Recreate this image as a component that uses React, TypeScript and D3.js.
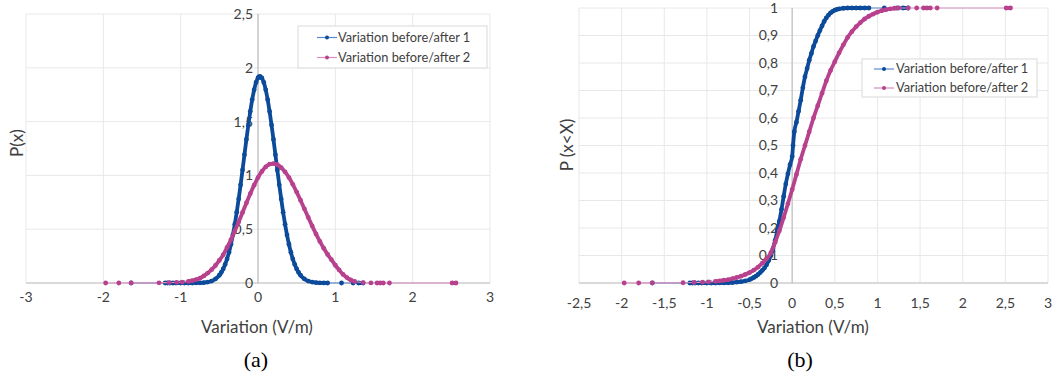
import React from "react";
import * as d3 from "d3";

// sample positions (V/m)
const blueX = [-1.64, -1.2, -1.17, -1.14, -1.1, -1.06, -1.0, -0.95, -0.9, -0.85, -0.8,
  -0.75, -0.7, -0.65, -0.6, -0.55,
  -0.5, -0.475, -0.45, -0.425, -0.4, -0.375, -0.35, -0.325, -0.3, -0.275, -0.25, -0.225, -0.2, -0.175, -0.15, -0.125, -0.1, -0.075, -0.05, -0.025, 0,
  0.01,
  0.025, 0.05, 0.075, 0.1, 0.125, 0.15, 0.175, 0.2, 0.225, 0.25, 0.275, 0.3, 0.325, 0.35, 0.375, 0.4, 0.425, 0.45, 0.475, 0.5, 0.525, 0.55,
  0.6, 0.65, 0.7, 0.75, 0.8, 0.85, 0.9,
  1.08, 1.23, 1.3, 1.36];

const bluePdf = [0, 0, 0, 0, 0, 0, 0, 0, 0, 0.0002, 0.0006,
  0.0015, 0.0037, 0.0085, 0.018, 0.038,
  0.072, 0.098, 0.131, 0.173, 0.224, 0.286, 0.36, 0.447, 0.546, 0.658, 0.781, 0.912, 1.05, 1.193, 1.334, 1.469, 1.594, 1.705, 1.795, 1.864, 1.906,
  1.916,
  1.92, 1.906, 1.864, 1.795, 1.705, 1.594, 1.469, 1.334, 1.193, 1.05, 0.912, 0.781, 0.658, 0.546, 0.447, 0.36, 0.286, 0.224, 0.173, 0.131, 0.098, 0.072,
  0.038, 0.018, 0.0085, 0.0037, 0.0015, 0.0006, 0.0002,
  0, 0, 0, 0];

const blueCdf = [0, 0, 0, 0, 0, 0, 0, 0, 0, 0.0002, 0.0004,
  0.0008, 0.0015, 0.003, 0.005, 0.008,
  0.012, 0.016, 0.02, 0.025, 0.031, 0.038, 0.046, 0.055, 0.066, 0.082, 0.1, 0.125, 0.155, 0.19, 0.225, 0.268, 0.315, 0.36, 0.397, 0.43, 0.46,
  0.5,
  0.55, 0.585, 0.625, 0.665, 0.71, 0.75, 0.78, 0.81, 0.835, 0.86, 0.88, 0.9, 0.918, 0.935, 0.951, 0.964, 0.974, 0.982, 0.988, 0.992, 0.995, 0.997,
  0.999, 1, 1, 1, 1, 1, 1,
  1, 1, 1, 1];

const magentaX = [-1.97, -1.8, -1.64, -1.28, -1.15, -1.05, -0.98,
  -0.9, -0.85, -0.8, -0.75, -0.7, -0.65, -0.6, -0.55, -0.5, -0.45,
  -0.4, -0.35, -0.3, -0.25, -0.2, -0.15, -0.1, -0.05, 0, 0.05,
  0.1, 0.15, 0.2, 0.25, 0.3, 0.35, 0.4, 0.45, 0.5, 0.55,
  0.6, 0.65, 0.7, 0.75, 0.8, 0.85, 0.9, 0.95, 1.0, 1.05,
  1.1, 1.15, 1.2, 1.25,
  1.36, 1.46, 1.54, 1.58, 1.62, 1.7, 2.51, 2.56];

const magentaPdf = [0, 0, 0.0003, 0.002, 0.004, 0.006, 0.009,
  0.015, 0.022, 0.032, 0.045, 0.066, 0.092, 0.124, 0.163, 0.21, 0.262,
  0.33, 0.402, 0.484, 0.568, 0.655, 0.744, 0.83, 0.909, 0.98, 1.037,
  1.079, 1.104, 1.11, 1.099, 1.073, 1.032, 0.98, 0.917, 0.845, 0.769,
  0.689, 0.609, 0.531, 0.456, 0.386, 0.323, 0.266, 0.216, 0.165, 0.12,
  0.08, 0.05, 0.028, 0.014,
  0.004, 0.001, 0, 0, 0, 0, 0, 0];

const magentaCdf = [0, 0, 0.0005, 0.001, 0.002, 0.003, 0.004,
  0.006, 0.008, 0.01, 0.012, 0.016, 0.02, 0.025, 0.031, 0.038, 0.047,
  0.058, 0.072, 0.088, 0.11, 0.148, 0.19, 0.238, 0.288, 0.34, 0.395,
  0.45, 0.5, 0.55, 0.6, 0.645, 0.69, 0.735, 0.773, 0.805, 0.837,
  0.866, 0.893, 0.914, 0.932, 0.947, 0.96, 0.97, 0.978, 0.985, 0.99,
  0.994, 0.997, 0.999, 1,
  1, 1, 1, 1, 1, 1, 1, 1];

const seriesNames = ["Variation before/after 1", "Variation before/after 2"];
const xTicksA = [-3, -2, -1, 0, 1, 2, 3];
const yTicksA = [0, 0.5, 1, 1.5, 2, 2.5];
const xTicksB = [-2.5, -2, -1.5, -1, -0.5, 0, 0.5, 1, 1.5, 2, 2.5, 3];
const yTicksB = [0, 0.1, 0.2, 0.3, 0.4, 0.5, 0.6, 0.7, 0.8, 0.9, 1];

const BLUE = "#0c4a9a";
const BLUE_LINE = "#5a86cc";
const MAG = "#b8418e";
const MAG_LINE = "#d98cbf";
const GRID = "#e8e8e8";
const AXIS = "#bfbfbf";
const TXT = "#404040";
const FONT = "Lato, 'Open Sans', sans-serif";

type Pt = [number, number];
const zip = (xs: number[], ys: number[]): Pt[] => xs.map((x, i) => [x, ys[i]]);
const fmt = (v: number) => String(+v.toFixed(2)).replace(".", ",");

function Series({ pts, x, y, color, lineColor }: any) {
  const gen = d3.line<Pt>().x(d => x(d[0])).y(d => y(d[1])).curve(d3.curveMonotoneX);
  // dense runs of points drawn as a heavy stroke so they read as a chain of markers
  const runs: Pt[][] = [];
  let cur: Pt[] = [pts[0]];
  for (let i = 1; i < pts.length; i++) {
    if (pts[i][0] - pts[i - 1][0] < 0.065) cur.push(pts[i]);
    else { runs.push(cur); cur = [pts[i]]; }
  }
  runs.push(cur);
  return (
    <g>
      <path d={gen(pts) || ""} fill="none" stroke={lineColor} strokeWidth={1.2} />
      {runs.filter(r => r.length > 1).map((r, i) => (
        <path key={i} d={gen(r) || ""} fill="none" stroke={color} strokeWidth={3.8}
          strokeLinecap="round" strokeLinejoin="round" />
      ))}
      {pts.map((d: Pt, i: number) => (
        <circle key={i} cx={x(d[0])} cy={y(d[1])} r={2.4} fill={color} />
      ))}
    </g>
  );
}

function Legend({ x0, y0, w, h, rows, lineX, textX }: any) {
  return (
    <g>
      <rect x={x0} y={y0} width={w} height={h} fill="#fff" stroke="#d9d9d9" strokeWidth={1} />
      {seriesNames.map((name, i) => {
        const cy = rows[i];
        const c = i === 0 ? BLUE : MAG;
        const lc = i === 0 ? BLUE_LINE : MAG_LINE;
        return (
          <g key={name}>
            <line x1={x0 + lineX} x2={x0 + lineX + 20} y1={cy} y2={cy} stroke={lc} strokeWidth={1.2} />
            <circle cx={x0 + lineX + 10} cy={cy} r={2} fill={c} />
            <text x={x0 + textX} y={cy} dy="0.35em" fontSize={12.8} fill={TXT} fontFamily={FONT}>{name}</text>
          </g>
        );
      })}
    </g>
  );
}

function Panel(p: any) {
  const x = d3.scaleLinear().domain(p.xDomain).range(p.xRange);
  const y = d3.scaleLinear().domain(p.yDomain).range(p.yRange);
  const [xl, xr] = p.xRange;
  const [yb, yt] = p.yRange;
  return (
    <g>
      {p.xTicks.map((t: number) => (
        <line key={"gx" + t} x1={x(t)} x2={x(t)} y1={yt} y2={yb} stroke={GRID} />
      ))}
      {p.yTicks.map((t: number) => (
        <line key={"gy" + t} x1={xl} x2={xr} y1={y(t)} y2={y(t)} stroke={GRID} />
      ))}
      <line x1={x(0)} x2={x(0)} y1={yt} y2={yb} stroke={AXIS} strokeWidth={1.2} />
      <line x1={xl} x2={xr} y1={y(0)} y2={y(0)} stroke={AXIS} strokeWidth={1.2} />
      {p.xTicks.map((t: number) => (
        <text key={"tx" + t} x={x(t)} y={p.xTickY} dy="0.35em" textAnchor="middle"
          fontSize={p.tickSize} fill={TXT} fontFamily={FONT}>{fmt(t)}</text>
      ))}
      {p.yTicks.map((t: number) => (
        <text key={"ty" + t} x={x(0) - p.yTickGap} y={y(t)} dy="0.35em" textAnchor="end"
          fontSize={p.tickSize} fill={TXT} fontFamily={FONT}>{fmt(t)}</text>
      ))}
      <Series pts={p.blue} x={x} y={y} color={BLUE} lineColor={BLUE_LINE} />
      <Series pts={p.magenta} x={x} y={y} color={MAG} lineColor={MAG_LINE} />
      <text x={p.xTitleX} y={327} dy="0.35em" textAnchor="middle" fontSize={17}
        fill={TXT} fontFamily={FONT}>Variation (V/m)</text>
      <text transform={`translate(${p.yTitleX},${p.yTitleY}) rotate(-90)`} dy="0.35em"
        textAnchor="middle" fontSize={17} fill={TXT} fontFamily={FONT}>{p.yTitle}</text>
      <text x={p.captionX} y={359} dy="0.35em" textAnchor="middle" fontSize={22}
        fill="#000" fontFamily="'Liberation Serif', 'Times New Roman', serif">{p.caption}</text>
      <Legend {...p.legend} />
    </g>
  );
}

export default function App() {
  return (
    <svg width={1058} height={375} style={{ position: "absolute", left: 0, top: 0, background: "#fff" }}>
      <rect width={1058} height={375} fill="#fff" />
      <Panel
        xDomain={[-3, 3]} xRange={[26, 490]}
        yDomain={[0, 2.5]} yRange={[283, 14]}
        xTicks={xTicksA} yTicks={yTicksA}
        xTickY={297} yTickGap={5} tickSize={14}
        blue={zip(blueX, bluePdf)} magenta={zip(magentaX, magentaPdf)}
        xTitleX={257} yTitle="P(x)" yTitleX={17} yTitleY={143}
        caption="(a)" captionX={256}
        legend={{ x0: 298, y0: 26, w: 189, h: 42, rows: [37.5, 57.5], lineX: 19, textX: 40 }}
      />
      <Panel
        xDomain={[-2.5, 3]} xRange={[579, 1048]}
        yDomain={[0, 1]} yRange={[283, 8]}
        xTicks={xTicksB} yTicks={yTicksB}
        xTickY={303} yTickGap={14} tickSize={14}
        blue={zip(blueX, blueCdf)} magenta={zip(magentaX, magentaCdf)}
        xTitleX={813} yTitle="P (x<X)" yTitleX={567} yTitleY={145}
        caption="(b)" captionX={800}
        legend={{ x0: 862, y0: 59, w: 175, h: 38, rows: [69, 88], lineX: 12, textX: 34 }}
      />
    </svg>
  );
}
